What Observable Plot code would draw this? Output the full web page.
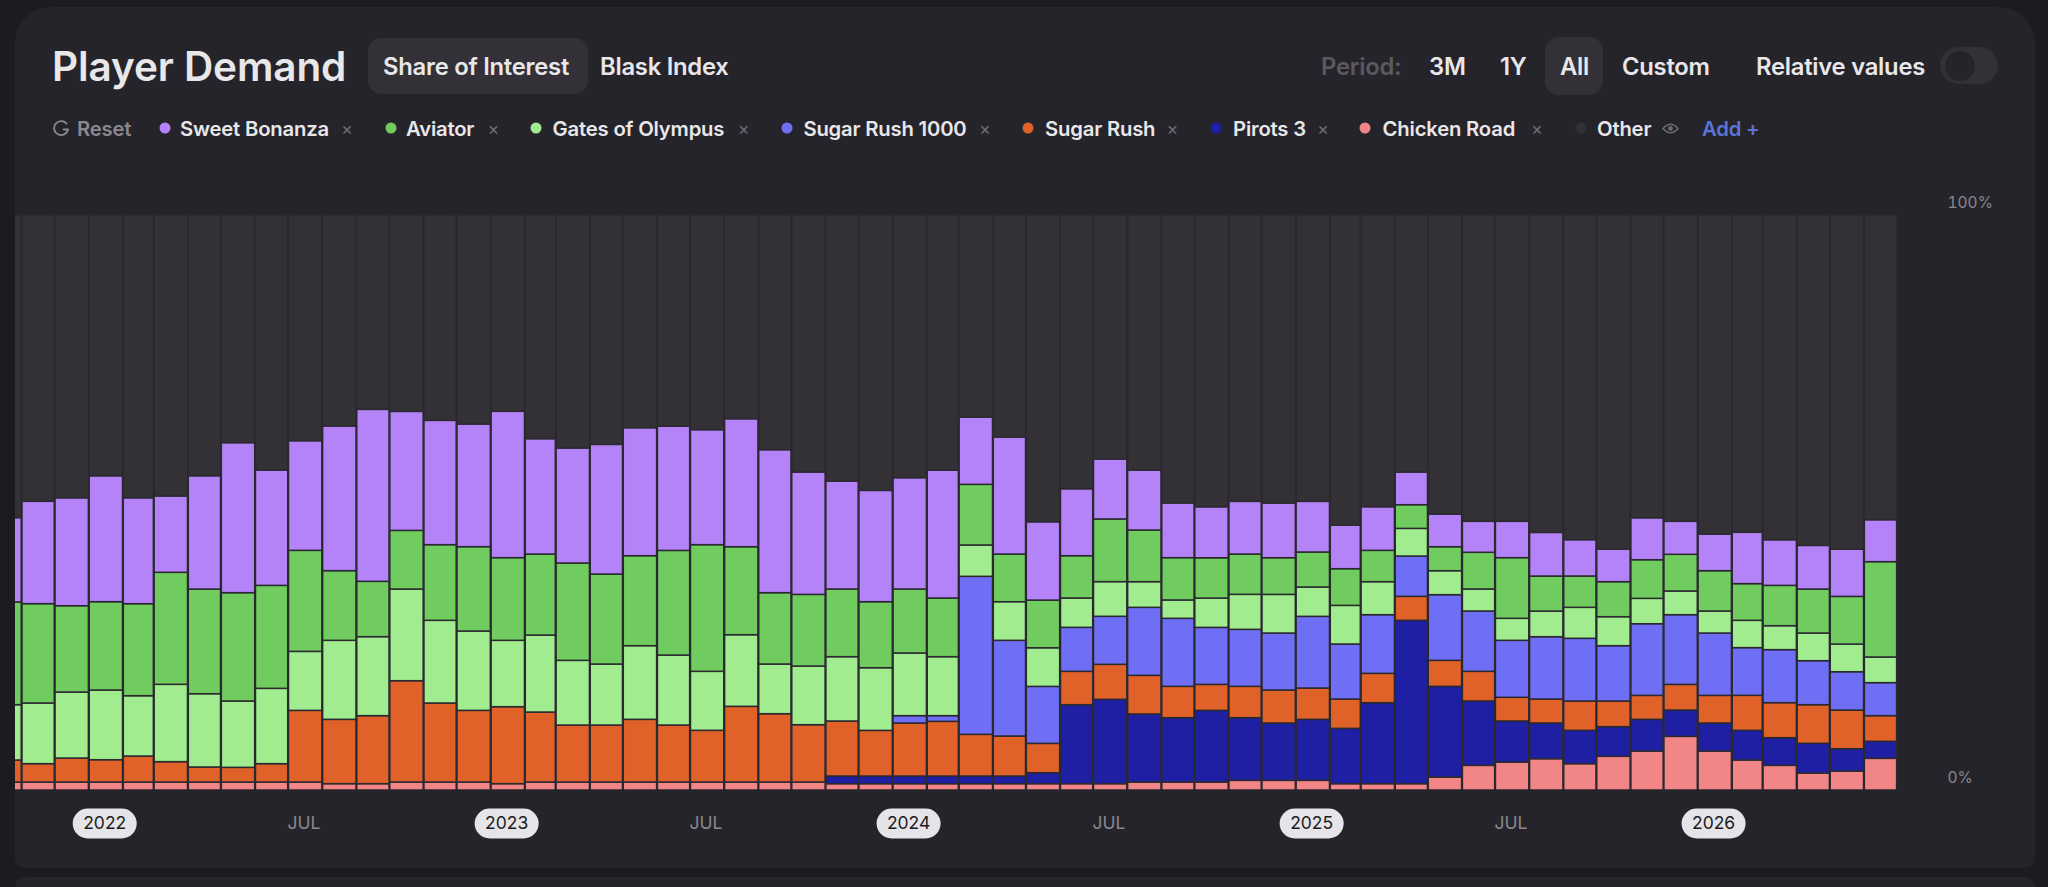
<!DOCTYPE html>
<html>
<head>
<meta charset="utf-8">
<script src="https://cdn.jsdelivr.net/npm/d3@7"></script>
<script src="https://cdn.jsdelivr.net/npm/@observablehq/plot@0.6"></script>
<style>
html,body{margin:0;padding:0;width:2048px;height:887px;overflow:hidden;background:#1c1b20;font-family:Inter,"Noto Sans",sans-serif;}
.card{position:absolute;left:15px;top:7px;width:2020px;height:861px;background:#26242b;border-radius:36px 36px 10px 10px;}
.card2{position:absolute;left:15px;top:877px;width:2020px;height:30px;background:#26242b;border-radius:10px;}
.t{position:absolute;white-space:nowrap;transform:translateY(-50%);color:#e8e7ea;font-weight:600;}
.h{font-size:23.8px;letter-spacing:-.25px;}
.l{font-size:20.3px;letter-spacing:-.2px;}
.pill{position:absolute;background:#333137;border-radius:14px;}
.dot{position:absolute;width:11px;height:11px;border-radius:50%;transform:translate(-50%,-50%);}
#chart{position:absolute;left:0;top:0;}
#chart svg{background:transparent;display:block;}
svg.ic{position:absolute;}
</style>
</head>
<body>
<div class="card"></div>
<div class="card2"></div>
<div class="pill" style="left:368px;top:38px;width:220px;height:56px"></div>
<div class="pill" style="left:1545px;top:37px;width:58px;height:58px"></div>
<div class="t" style="left:52px;top:66px;font-size:40.5px;font-weight:600;letter-spacing:-.1px">Player Demand</div>
<div class="t h" style="left:383px;top:66px">Share of Interest</div>
<div class="t h" style="left:600px;top:66px">Blask Index</div>
<div class="t h" style="left:1321px;top:66px;color:#5b5960">Period:</div>
<div class="t h" style="left:1429px;top:66px">3M</div>
<div class="t h" style="left:1500px;top:66px">1Y</div>
<div class="t h" style="left:1560px;top:66px">All</div>
<div class="t h" style="left:1622px;top:66px">Custom</div>
<div class="t h" style="left:1756px;top:66px">Relative values</div>
<div class="pill" style="left:1940px;top:47px;width:58px;height:37px;border-radius:19px"></div>
<div class="pill" style="left:1945px;top:51px;width:30px;height:30px;border-radius:50%;background:#26242b"></div>
<svg class="ic" style="left:53px;top:120px" width="17" height="17" viewBox="0 0 17 17"><path d="M14 4.2A7 7 0 1 0 15 9.5H10" fill="none" stroke="#8a888f" stroke-width="1.8"/></svg>
<div class="t l" style="left:77px;top:128px;color:#8a888f">Reset</div>
<div id="legend"></div>
<svg class="ic" style="left:1662px;top:120px" width="17" height="17" viewBox="0 0 17 17"><path d="M1 8.5Q8.5 0 16 8.5Q8.5 17 1 8.5Z" fill="none" stroke="#6d6b72" stroke-width="1.5"/><circle cx="8.5" cy="8.5" r="2.4" fill="#6d6b72"/></svg>
<div class="t l" style="left:1702px;top:128px;color:#5b74d8">Add +</div>
<div id="chart"></div>
<script>
// Stack order, bottom to top
const seriesNames = ["Chicken Road","Pirots 3","Sugar Rush","Sugar Rush 1000","Gates of Olympus","Aviator","Sweet Bonanza","Other"];
const seriesColors = ["#f28585","#1f1fa3","#e06229","#6e6ff5","#a0ec8f","#71cc60","#b583f8","#333136"];

// Monthly share of interest (%), Oct 2021 – Jun 2026
const chickenRoad = [1.39,1.39,1.39,1.39,1.39,1.39,1.39,1.39,1.39,1.39,1.10,1.10,1.39,1.39,1.39,1.10,1.39,1.39,1.39,1.39,1.39,1.39,1.39,1.39,1.39,1.10,1.10,1.10,1.10,1.10,1.10,1.10,1.10,1.10,1.39,1.39,1.39,1.68,1.68,1.68,1.10,1.10,1.10,2.26,4.29,4.87,5.45,4.58,5.86,6.78,9.33,6.78,5.22,4.29,2.96,3.30,5.51];
const pirots3 = [0,0,0,0,0,0,0,0,0,0,0,0,0,0,0,0,0,0,0,0,0,0,0,0,0,1.33,1.33,1.33,1.33,1.33,1.33,1.91,13.74,14.67,11.83,11.19,12.46,10.90,9.97,10.61,9.62,14.09,28.41,15.77,11.19,7.13,6.20,5.80,5.16,5.51,4.58,4.87,5.16,4.81,5.16,3.88,2.96];
const sugarRush = [3.83,3.19,4.17,3.88,4.52,3.54,2.61,2.55,3.19,12.46,11.19,11.83,17.62,13.74,12.46,13.39,12.17,9.91,9.91,10.90,9.91,8.99,13.16,11.88,9.97,9.57,7.94,9.22,9.51,7.25,6.96,5.10,5.80,6.09,6.72,5.45,4.52,5.45,5.74,5.45,5.10,5.10,4.17,4.52,5.16,4.12,4.17,5.10,4.46,4.17,4.46,4.81,6.09,6.09,6.72,6.72,4.46];
const sugarRush1000 = [0,0,0,0,0,0,0,0,0,0,0,0,0,0,0,0,0,0,0,0,0,0,0,0,0,0,0,1.28,0.99,27.48,16.64,9.91,7.65,8.35,11.83,11.83,9.91,9.91,9.91,12.46,9.57,10.20,7.01,11.42,10.49,9.91,10.84,10.90,9.62,12.46,12.12,10.84,8.29,9.22,7.65,6.67,5.74];
const gatesOfOlympus = [9.62,10.55,11.48,12.12,10.49,13.45,12.75,11.54,13.10,10.26,13.74,13.74,15.94,14.38,13.80,11.54,13.39,11.25,10.61,12.81,12.17,10.26,12.46,8.64,10.20,11.19,10.90,10.90,10.26,5.45,6.72,6.72,5.10,6.03,4.46,3.19,5.10,6.09,6.72,5.10,6.72,5.74,4.81,4.17,3.83,3.83,4.46,5.39,5.04,4.41,4.12,3.83,4.75,4.17,4.81,4.81,4.46];
const aviator = [17.86,17.28,15.01,15.36,16.00,19.48,18.20,18.84,17.91,17.57,12.12,9.62,10.20,13.16,14.67,14.38,14.09,16.93,15.65,15.65,18.20,22.03,15.30,12.41,12.46,11.77,11.48,11.13,10.20,10.55,8.29,8.29,7.36,10.90,8.99,7.36,7.01,7.01,6.38,6.09,6.38,5.45,4.12,4.17,6.38,10.55,6.09,5.45,6.09,6.72,6.38,7.01,6.38,7.01,7.65,8.29,16.58];
const sweetBonanza = [14.67,17.80,18.78,21.91,18.43,13.28,19.71,26.09,20.06,19.07,25.16,29.91,20.70,21.62,21.33,25.45,20.06,20.00,22.55,22.26,21.62,20.00,22.26,24.87,21.28,18.78,19.36,19.36,22.26,11.71,20.35,13.62,11.65,10.43,10.43,9.51,8.87,9.16,9.51,8.81,7.59,7.59,5.68,5.68,5.39,6.32,7.59,6.32,5.68,7.30,5.74,6.38,8.93,7.94,7.59,8.23,7.30];

const seriesValues = [chickenRoad,pirots3,sugarRush,sugarRush1000,gatesOfOlympus,aviator,sweetBonanza];
const yearTicks = [2022,2023,2024,2025,2026];
const julyTicks = [2022,2023,2024,2025];

const firstMonth = new Date(Date.UTC(2021,9,1));
const months = d3.utcMonth.range(firstMonth, new Date(Date.UTC(2026,6,1)));
const rows = [];
months.forEach((date,i)=>{
  let used = 0;
  seriesValues.forEach((vals,s)=>{
    used += vals[i];
    rows.push({date, series:seriesNames[s], value:vals[i]});
  });
  rows.push({date, series:"Other", value:100-used});
});

const pillSymbol = {draw(ctx){
  const w=32,h=15,r=15;
  ctx.moveTo(-w+r,-h);ctx.lineTo(w-r,-h);
  ctx.arcTo(w,-h,w,0,r);ctx.arcTo(w,h,w-r,h,r);
  ctx.lineTo(-w+r,h);
  ctx.arcTo(-w,h,-w,0,r);ctx.arcTo(-w,-h,-w+r,-h,r);
  ctx.closePath();
}};
const yearDates = yearTicks.map(y=>new Date(Date.UTC(y,0,15)));
const julyDates = julyTicks.map(y=>new Date(Date.UTC(y,6,15)));
const font = "Inter, 'Noto Sans', sans-serif";

const chart = Plot.plot({
  width:2048, height:887,
  marginLeft:15, marginRight:151, marginTop:215, marginBottom:97,
  style:{background:"transparent",fontFamily:font},
  x:{type:"utc",domain:[new Date(Date.UTC(2021,9,26)),new Date(Date.UTC(2026,6,1))],axis:null},
  y:{domain:[0,100],axis:null},
  color:{domain:seriesNames,range:seriesColors},
  marks:[
    Plot.rectY(rows,{x:"date",y:"value",interval:"month",z:"series",fill:"series",order:seriesNames,
      stroke:"#2b2930",strokeWidth:1.5,insetLeft:.4,insetRight:.4,clip:true}),
    Plot.axisY({anchor:"right",ticks:[0,100],tickSize:0,tickFormat:d=>d+"%",textAnchor:"start",
      dx:50,dy:-12,fill:"#8a888f",fontSize:15.5,tickPadding:0,label:null,fontFamily:font}),
    Plot.dot(yearDates,{x:d=>d,frameAnchor:"bottom",dy:33,symbol:pillSymbol,fill:"#e5e4e8",stroke:"none"}),
    Plot.text(yearDates,{x:d=>d,text:d=>String(d.getUTCFullYear()),frameAnchor:"bottom",dy:33,lineAnchor:"middle",
      fill:"#1c1b20",fontSize:17.5,fontWeight:400,fontFamily:font}),
    Plot.text(julyDates,{x:d=>d,text:()=>"JUL",frameAnchor:"bottom",dy:33,lineAnchor:"middle",
      fill:"#8a888f",fontSize:17.5,fontFamily:font})
  ]
});
document.getElementById("chart").append(chart);

// Legend row
const legendOrder = [...seriesNames].reverse().slice(1).concat("Other");
const legendDotX = [164.5,390.5,536,787,1028,1216,1365,1580.5];
const legendTextX = [180,406,552.6,803.4,1045,1233,1382.6,1597];
const legendCrossX = [346,492.5,742.7,984,1171.6,1322,1536,null];
const lg = document.getElementById("legend");
legendOrder.forEach((name,i)=>{
  const c = seriesColors[seriesNames.indexOf(name)];
  lg.insertAdjacentHTML("beforeend",
    `<div class="dot" style="left:${legendDotX[i]}px;top:128px;background:${c}"></div>`+
    `<div class="t l" style="left:${legendTextX[i]}px;top:128px">${name}</div>`+
    (legendCrossX[i]?`<div class="t" style="left:${legendCrossX[i]-5}px;top:128px;font-size:18px;color:#6d6b72;font-weight:400">×</div>`:""));
});
</script>
</body>
</html>
